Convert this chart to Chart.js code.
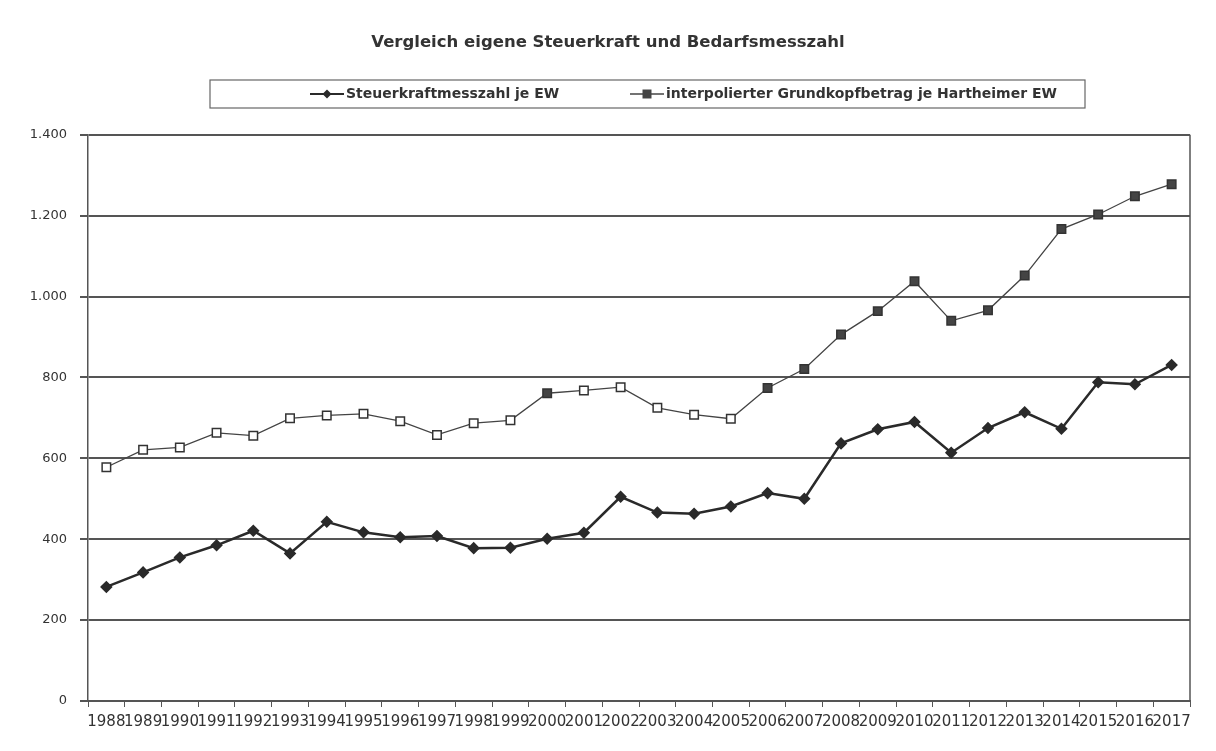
<!DOCTYPE html>
<html>
<head>
<meta charset="utf-8">
<script src="https://cdn.jsdelivr.net/npm/chart.js@4.4.1/dist/chart.umd.min.js"></script>
<style>
  body { margin: 0; background: #fff; }
  #wrap { width: 1216px; height: 751px; }
</style>
</head>
<body>
<div id="wrap"><canvas id="chart"></canvas></div>
<script>
const years = ['1988', '1989', '1990', '1991', '1992', '1993', '1994', '1995', '1996', '1997',
  '1998', '1999', '2000', '2001', '2002', '2003', '2004', '2005', '2006', '2007',
  '2008', '2009', '2010', '2011', '2012', '2013', '2014', '2015', '2016', '2017'];

// Steuerkraftmesszahl je EW
const steuerkraft = [282, 318, 355, 385, 421, 365, 443, 417, 405, 408,
  378, 379, 401, 416, 505, 466, 463, 481, 514, 500,
  637, 672, 690, 614, 675, 714, 673, 788, 783, 831];

// interpolierter Grundkopfbetrag je Hartheimer EW
const grundkopf = [578, 621, 627, 663, 656, 699, 706, 710, 692, 658,
  687, 694, 761, 768, 776, 725, 708, 698, 774, 821,
  906, 964, 1038, 940, 966, 1052, 1167, 1203, 1248, 1278];

const seriesNames = ['Steuerkraftmesszahl je EW', 'interpolierter Grundkopfbetrag je Hartheimer EW'];
const yTicks = [0, 200, 400, 600, 800, 1000, 1200, 1400];

const ink = '#333';
const gridInk = '#555';
const font = 'DejaVu Sans';

function drawMarker(g, kind, x, y) {
  g.beginPath();
  if (kind === 'diamond') {
    g.moveTo(x, y - 4.5); g.lineTo(x + 4.5, y); g.lineTo(x, y + 4.5); g.lineTo(x - 4.5, y);
  } else {
    g.rect(x - 4.5, y - 4.5, 9, 9);
  }
  g.fill();
}

// legend drawn by hand: line + marker + label, inside a framed box
const legendPlugin = {
  id: 'boxLegend',
  afterDraw(chart) {
    const g = chart.ctx;
    const a = chart.chartArea;
    g.save();
    // right edge of the plot frame
    g.strokeStyle = gridInk;
    g.lineWidth = 1.5;
    g.beginPath();
    g.moveTo(a.right, a.top);
    g.lineTo(a.right, a.bottom);
    g.stroke();

    g.strokeStyle = '#666';
    g.lineWidth = 1.2;
    g.strokeRect(210, 80, 875, 28);

    const y = 94;
    const starts = [310, 630];
    const kinds = ['diamond', 'square'];
    g.font = 'bold 14px "' + font + '"';
    g.textBaseline = 'middle';
    chart.data.datasets.forEach((ds, i) => {
      const x = starts[i];
      g.strokeStyle = ds.borderColor;
      g.fillStyle = ds.borderColor;
      g.lineWidth = i === 0 ? 2 : 1.5;
      g.beginPath(); g.moveTo(x, y); g.lineTo(x + 34, y); g.stroke();
      drawMarker(g, kinds[i], x + 17, y);
      g.fillStyle = ink;
      g.fillText(ds.label, x + 36, y);
    });
    g.restore();
  }
};

new Chart(document.getElementById('chart'), {
  type: 'line',
  data: {
    labels: years,
    datasets: [{
      label: seriesNames[0],
      data: steuerkraft,
      borderColor: '#2a2a2a',
      backgroundColor: '#2a2a2a',
      borderWidth: 2.5,
      pointStyle: 'rectRot',
      pointRadius: 4.5,
      pointBackgroundColor: '#2a2a2a',
      pointBorderColor: '#2a2a2a',
      tension: 0
    }, {
      label: seriesNames[1],
      data: grundkopf,
      borderColor: '#444',
      backgroundColor: '#444',
      borderWidth: 1.3,
      pointStyle: 'rect',
      pointRadius: 6,
      pointBorderWidth: 1.5,
      pointBorderColor: '#333',
      pointBackgroundColor: ctx => (ctx.dataIndex >= 18 || ctx.dataIndex === 12) ? '#444' : '#fff',
      tension: 0
    }]
  },
  options: {
    responsive: true,
    maintainAspectRatio: false,
    animation: false,
    layout: { padding: { left: 26, right: 26, top: 0, bottom: 14 } },
    plugins: {
      title: {
        display: true,
        text: 'Vergleich eigene Steuerkraft und Bedarfsmesszahl',
        color: ink,
        font: { family: font, size: 16.5, weight: 'bold' },
        padding: { top: 33, bottom: 82 }
      },
      legend: { display: false },
      tooltip: { enabled: false }
    },
    scales: {
      x: {
        offset: true,
        grid: {
          offset: true,
          drawOnChartArea: false,
          drawTicks: true,
          tickLength: 6,
          color: gridInk
        },
        border: { display: true, color: gridInk, width: 2 },
        ticks: {
          autoSkip: false,
          maxRotation: 0,
          minRotation: 0,
          color: ink,
          padding: 6,
          font: { family: font, size: 15 }
        }
      },
      y: {
        min: 0,
        max: 1400,
        afterFit: axis => { axis.width = 62; },
        afterBuildTicks: axis => { axis.ticks = yTicks.map(v => ({ value: v })); },
        grid: { color: gridInk, lineWidth: 2, tickLength: 8 },
        border: { display: true, color: gridInk, width: 1.5 },
        ticks: {
          color: ink,
          padding: 13,
          font: { family: font, size: 13 },
          callback: v => v.toLocaleString('de-DE')
        }
      }
    }
  },
  plugins: [legendPlugin]
});
</script>
</body>
</html>
